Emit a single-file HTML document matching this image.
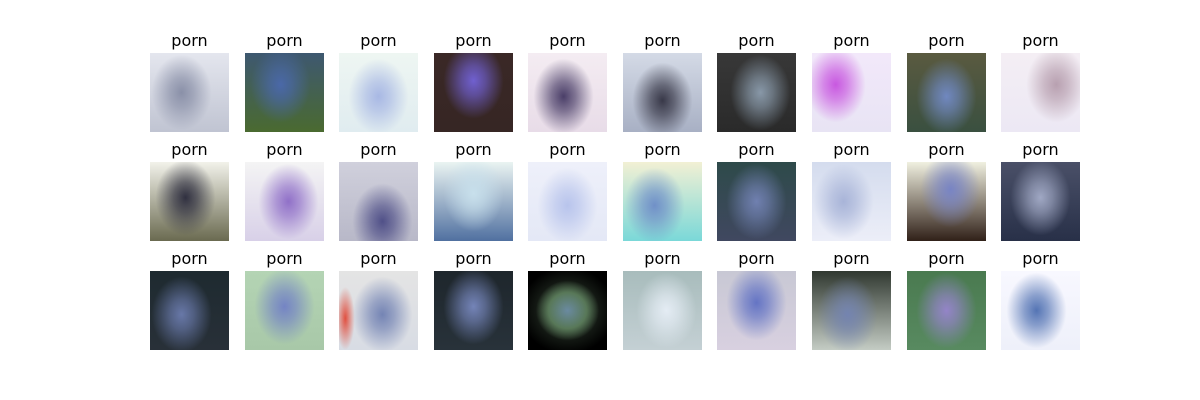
<!DOCTYPE html>
<html><head><meta charset="utf-8">
<style>
html,body{margin:0;padding:0;background:#fff;}
#fig{position:relative;width:1200px;height:400px;overflow:hidden;background:#fff;font-family:"DejaVu Sans","Liberation Sans",sans-serif;}
.cell{position:absolute;width:79px;height:79px;overflow:hidden;}
.title{position:absolute;width:100px;text-align:center;font-size:16px;color:#000;line-height:18px;}
</style></head>
<body>
<div id="fig"></div>
<script>
const colX = [150,245,339,434,528,623,717,812,907,1001];
const rowY = [53,162,271];
const labels = Array(30).fill('porn');
// [top, bottom, center-blob, blob position]
const cellColors = [
 ['#e4e6ee','#c0c4d2','#8a90a8','40% 50%'],
 ['#3e5870','#4a6a30','#4a68a8','45% 40%'],
 ['#eef6f2','#e0ecf0','#a8b8e4','50% 55%'],
 ['#3a2826','#362624','#7060d0','50% 35%'],
 ['#f4ecf2','#e8dce8','#4a3e68','45% 55%'],
 ['#d4dae6','#a8b0c4','#383848','50% 60%'],
 ['#383838','#2a2a2a','#8898a8','55% 50%'],
 ['#f2e8fa','#e8e4f4','#c858e0','30% 40%'],
 ['#5a5a40','#3a5040','#7088c0','50% 55%'],
 ['#f4eef4','#ece8f4','#b8a0b0','70% 40%'],
 ['#f2f2ea','#6a6a50','#303040','45% 45%'],
 ['#f4f4f4','#d8d0e8','#9070c8','55% 50%'],
 ['#d0d0dc','#b8b8c8','#505088','55% 75%'],
 ['#eaf4f2','#5070a0','#c8e0ec','50% 40%'],
 ['#eef0fa','#e4e8f6','#b8c4ec','50% 55%'],
 ['#f2f0d4','#7ad8d8','#7090c8','40% 55%'],
 ['#2e4a4a','#404860','#7080b0','50% 50%'],
 ['#d4dcee','#eceef8','#a8b4d8','40% 50%'],
 ['#f0f0e0','#302018','#7884c4','55% 35%'],
 ['#4a5068','#283048','#a0a8c4','50% 45%'],
 ['#1e2a30','#283038','#6878a8','40% 55%'],
 ['#b4d4b4','#a8c8a8','#7484c4','50% 45%'],
 ['#e4e4e4','#d8dce4','#7484b4','55% 55%'],
 ['#1e262c','#28323a','#7484b8','50% 45%'],
 ['#000000','#000000','#58785a','50% 50%'],
 ['#a8bcbc','#c4d0d4','#e4ecf4','55% 50%'],
 ['#c8c8d4','#d8d0e0','#6474c4','50% 40%'],
 ['#303830','#c4ccc4','#7484b0','45% 55%'],
 ['#4a7a50','#588a60','#9484c8','50% 50%'],
 ['#f8f8ff','#eef0fa','#5474b4','45% 50%']
];
const fig = document.getElementById('fig');
for (let r = 0; r < rowY.length; r++) {
  for (let c = 0; c < colX.length; c++) {
    const i = r * colX.length + c;
    const col = cellColors[i];
    const t = document.createElement('div');
    t.className = 'title';
    t.textContent = labels[i];
    t.style.left = (colX[c] + 39.5 - 50) + 'px';
    t.style.top = (rowY[r] - 21) + 'px';
    
    
    fig.appendChild(t);
    const d = document.createElement('div');
    d.className = 'cell';
    d.style.left = colX[c] + 'px';
    d.style.top = rowY[r] + 'px';
    d.style.background = 'radial-gradient(ellipse 38% 48% at ' + col[3] + ',' + col[2] + ' 0%,' + col[2] + 'aa 40%,transparent 100%),linear-gradient(' + col[0] + ',' + col[1] + ')';
    if (i === 24) {
      d.style.background = 'radial-gradient(ellipse 40% 38% at 50% 50%,#6a8aa0 0%,#587858 60%,transparent 100%),radial-gradient(ellipse 60% 55% at 50% 50%,#3a4a3a 0%,#000 100%)';
    }
    if (i === 22) {
      d.style.background = 'radial-gradient(ellipse 38% 48% at 55% 55%,#7484b4 0%,#7484b4aa 40%,transparent 100%),radial-gradient(ellipse 12% 40% at 8% 60%,#e05040 0%,transparent 100%),linear-gradient(#e4e4e4,#d8dce4)';
    }
    
    
    fig.appendChild(d);
  }
}
</script>
</body></html>
